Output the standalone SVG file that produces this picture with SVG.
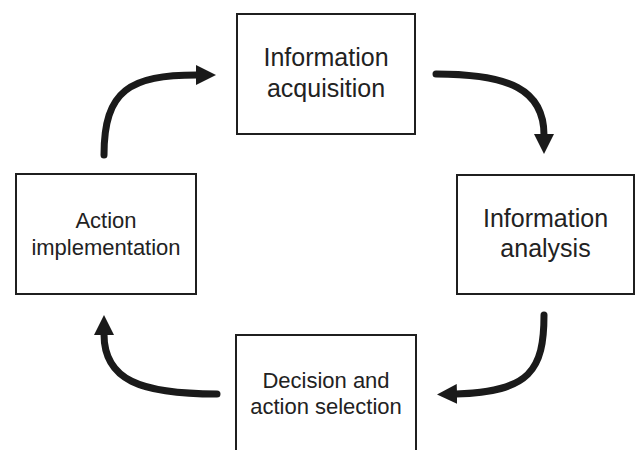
<svg xmlns="http://www.w3.org/2000/svg" width="637" height="450" viewBox="0 0 637 450">
  <defs>
    <marker id="head" viewBox="0 0 20 20" markerWidth="20" markerHeight="20" markerUnits="userSpaceOnUse" refX="1" refY="10" orient="auto">
      <path d="M0,0 L20,10 L0,20 Z" fill="#1a1a1a"/>
    </marker>
    <style>
      .box { fill: #ffffff; stroke: #1f1f1f; stroke-width: 2; }
      .lbl { font-family: "Liberation Sans", Arial, sans-serif; fill: #222222; text-anchor: middle; }
      .big { font-size: 25px; }
      .small { font-size: 22px; }
      .flow { fill: none; stroke: #1a1a1a; stroke-width: 7; stroke-linecap: round; marker-end: url(#head); }
    </style>
  </defs>

  <rect width="637" height="450" fill="#ffffff"/>

  <g id="connectors">
    <path class="flow" d="M104,155 C104,90 130,75 197,75"/>
    <path class="flow" d="M436,74 C510,74 544,90 544,135"/>
    <path class="flow" d="M544,315 C544,370 530,392 456,394"/>
    <path class="flow" d="M217,394 C140,394 104,380 104,334"/>
  </g>

  <g id="info-acquisition">
    <rect class="box" x="237" y="14" width="178" height="120"/>
    <text class="lbl big" x="326" y="66">Information</text>
    <text class="lbl big" x="326" y="97">acquisition</text>
  </g>

  <g id="info-analysis">
    <rect class="box" x="457" y="175" width="177" height="119"/>
    <text class="lbl big" x="545.5" y="227">Information</text>
    <text class="lbl big" x="545.5" y="257">analysis</text>
  </g>

  <g id="decision-selection">
    <rect class="box" x="236" y="335" width="180" height="130"/>
    <text class="lbl small" x="326" y="388">Decision and</text>
    <text class="lbl small" x="326" y="414">action selection</text>
  </g>

  <g id="action-implementation">
    <rect class="box" x="16" y="174" width="180" height="120"/>
    <text class="lbl small" x="106" y="228">Action</text>
    <text class="lbl small" x="106" y="255">implementation</text>
  </g>
</svg>
